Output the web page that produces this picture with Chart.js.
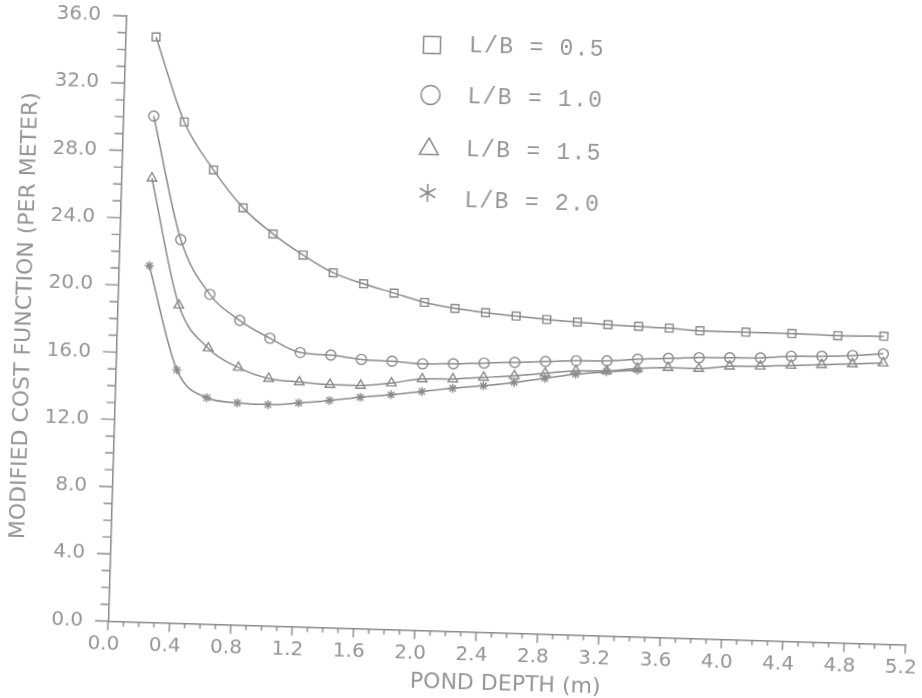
<!DOCTYPE html>
<html>
<head>
<meta charset="utf-8">
<title>Modified cost function vs pond depth</title>
<script src="https://cdn.jsdelivr.net/npm/chart.js@4/dist/chart.umd.min.js"></script>
<style>
  html, body { margin: 0; padding: 0; background: #fff; overflow: hidden; }
  /* the scanned figure sits slightly tilted on the page */
  #wrap { width: 944px; height: 698px; transform: rotate(1.7deg); transform-origin: 461px 349px; }
</style>
</head>
<body>
<div id="wrap"><canvas id="chart" width="944" height="698"></canvas></div>
<script>
// L/B = 0.5 (squares)
const depthSq = [0.2, 0.4, 0.6, 0.8, 1.0, 1.2, 1.4, 1.6, 1.8, 2.0, 2.2, 2.4, 2.6, 2.8, 3.0, 3.2, 3.4, 3.6, 3.8, 4.1, 4.4, 4.7, 5.0];
const costSq  = [34.8, 29.8, 27.0, 24.8, 23.3, 22.1, 21.1, 20.5, 20.0, 19.5, 19.2, 19.0, 18.85, 18.7, 18.6, 18.5, 18.45, 18.4, 18.3, 18.3, 18.3, 18.25, 18.3];

// L/B = 1.0 (circles)
const depthCi = [0.2, 0.4, 0.6, 0.8, 1.0, 1.2, 1.4, 1.6, 1.8, 2.0, 2.2, 2.4, 2.6, 2.8, 3.0, 3.2, 3.4, 3.6, 3.8, 4.0, 4.2, 4.4, 4.6, 4.8, 5.0];
const costCi  = [30.1, 22.8, 19.6, 18.1, 17.1, 16.3, 16.2, 16.0, 15.95, 15.85, 15.9, 16.0, 16.1, 16.2, 16.3, 16.35, 16.5, 16.6, 16.7, 16.75, 16.8, 16.95, 17.0, 17.1, 17.25];

// L/B = 1.5 (triangles)
const depthTr = [0.2, 0.4, 0.6, 0.8, 1.0, 1.2, 1.4, 1.6, 1.8, 2.0, 2.2, 2.4, 2.6, 2.8, 3.0, 3.2, 3.4, 3.6, 3.8, 4.0, 4.2, 4.4, 4.6, 4.8, 5.0];
const costTr  = [26.4, 18.9, 16.4, 15.3, 14.7, 14.55, 14.45, 14.45, 14.65, 14.95, 15.0, 15.15, 15.3, 15.5, 15.7, 15.75, 15.95, 16.05, 16.05, 16.25, 16.3, 16.4, 16.5, 16.6, 16.7];

// L/B = 2.0 (stars)
const depthSt = [0.2, 0.4, 0.6, 0.8, 1.0, 1.2, 1.4, 1.6, 1.8, 2.0, 2.2, 2.4, 2.6, 2.8, 3.0, 3.2, 3.4];
const costSt  = [21.2, 15.05, 13.45, 13.2, 13.15, 13.3, 13.5, 13.75, 13.95, 14.2, 14.45, 14.65, 14.9, 15.2, 15.5, 15.7, 15.85];

const seriesLabels = ['L/B = 0.5', 'L/B = 1.0', 'L/B = 1.5', 'L/B = 2.0'];

// axis ticks: labelled every 0.4 / 4.0, small marks every 0.1 / 1.0
const xMin = 0, xMax = 5.2, xMajor = 0.4, xMinor = 0.1;
const yMin = 0, yMax = 36, yMajor = 4, yMinor = 1;

const LINE = '#8a8a8a';
const TEXT = '#959595';

const pts = (xs, ys) => xs.map((x, i) => ({ x: x, y: ys[i] }));

function series(label, xs, ys, style, r) {
  return {
    label: label,
    data: pts(xs, ys),
    borderColor: LINE,
    borderWidth: 1.5,
    pointStyle: style,
    pointRadius: r,
    pointBorderColor: LINE,
    pointBorderWidth: 1.4,
    pointBackgroundColor: 'rgba(0,0,0,0)',
    cubicInterpolationMode: 'monotone',
    fill: false
  };
}

// plotter-style tick marks, long on labelled values, short in between
const tickMarks = {
  id: 'tickMarks',
  afterDraw(chart) {
    const { ctx, chartArea, scales } = chart;
    ctx.save();
    ctx.strokeStyle = LINE;
    ctx.lineWidth = 1.4;
    ctx.beginPath();
    const nx = Math.round((xMax - xMin) / xMinor);
    for (let i = 0; i <= nx; i++) {
      const px = scales.x.getPixelForValue(xMin + i * xMinor);
      const len = i % Math.round(xMajor / xMinor) === 0 ? 9 : 5;
      ctx.moveTo(px, chartArea.bottom);
      ctx.lineTo(px, chartArea.bottom + len);
    }
    const ny = Math.round((yMax - yMin) / yMinor);
    for (let i = 0; i <= ny; i++) {
      const py = scales.y.getPixelForValue(yMin + i * yMinor);
      const len = i % Math.round(yMajor / yMinor) === 0 ? 13 : 8;
      ctx.moveTo(chartArea.left, py);
      ctx.lineTo(chartArea.left - len, py);
    }
    ctx.stroke();
    ctx.restore();
  }
};

// legend inside the plot, big symbols followed by typewriter text
const plotLegend = {
  id: 'plotLegend',
  afterDraw(chart) {
    const ctx = chart.ctx;
    const rows = [46, 97, 150, 201];
    const marks = [
      { pointStyle: 'rect', radius: 12, dy: 0 },
      { pointStyle: 'circle', radius: 9.5, dy: -1 },
      { pointStyle: 'triangle', radius: 11, dy: 0 },
      { pointStyle: 'asterisk', radius: 9, dy: -7 }
    ];
    ctx.save();
    ctx.strokeStyle = LINE;
    ctx.fillStyle = 'rgba(0,0,0,0)';
    ctx.lineWidth = 1.5;
    chart.data.datasets.forEach((ds, i) => {
      const m = marks[i];
      const x = 423, y = rows[i] + m.dy;
      if (m.pointStyle === 'asterisk') {
        ctx.beginPath();
        for (let k = 0; k < 3; k++) {
          const a = Math.PI / 2 + k * Math.PI / 3;
          ctx.moveTo(x - m.radius * Math.cos(a), y - m.radius * Math.sin(a));
          ctx.lineTo(x + m.radius * Math.cos(a), y + m.radius * Math.sin(a));
        }
        ctx.stroke();
      } else {
        Chart.helpers.drawPoint(ctx, { pointStyle: m.pointStyle, radius: m.radius, rotation: 0, borderWidth: 1.5 }, x, y);
      }
      ctx.fillStyle = TEXT;
      ctx.font = '23px "Liberation Mono", monospace';
      ctx.letterSpacing = '1.3px';
      ctx.textBaseline = 'middle';
      ctx.textAlign = 'left';
      ctx.fillText(ds.label, 460, rows[i]);
      ctx.fillStyle = 'rgba(0,0,0,0)';
    });
    ctx.restore();
  }
};

const tickFont = { family: '"DejaVu Sans", sans-serif', size: 20 };
const titleFont = { family: '"DejaVu Sans", sans-serif', size: 22 };

new Chart(document.getElementById('chart'), {
  type: 'line',
  data: {
    datasets: [
      series(seriesLabels[0], depthSq, costSq, 'rect', 5.5),
      series(seriesLabels[1], depthCi, costCi, 'circle', 5),
      series(seriesLabels[2], depthTr, costTr, 'triangle', 5.5),
      series(seriesLabels[3], depthSt, costSt, 'star', 4.5)
    ]
  },
  options: {
    responsive: false,
    animation: false,
    layout: { padding: { top: 26, right: 30, bottom: 0, left: 0 } },
    plugins: { legend: { display: false }, tooltip: { enabled: false } },
    scales: {
      x: {
        type: 'linear',
        min: xMin,
        max: xMax,
        grid: { display: false, drawTicks: false },
        border: { display: true, color: LINE, width: 1.5 },
        ticks: {
          stepSize: xMajor,
          padding: 11,
          labelOffset: -4,
          color: TEXT,
          font: tickFont,
          maxRotation: 0,
          autoSkip: false,
          callback: v => Number(v).toFixed(1)
        },
        title: { display: true, text: 'POND DEPTH (m)', color: TEXT, font: titleFont, padding: { top: 0, bottom: 1.5 } },
        afterFit: s => { s.height = 66.5; s.paddingLeft = 0; s.paddingRight = 0; }
      },
      y: {
        min: yMin,
        max: yMax,
        grid: { display: false, drawTicks: false },
        border: { display: true, color: LINE, width: 1.5 },
        ticks: {
          stepSize: yMajor,
          padding: 25,
          color: TEXT,
          font: tickFont,
          callback: v => Number(v).toFixed(1)
        },
        title: { display: true, text: 'MODIFIED COST FUNCTION (PER METER)', color: TEXT, font: titleFont, padding: { top: 11, bottom: 0 } },
        afterFit: s => { s.width = 116.3; s.paddingTop = 0; s.paddingBottom = 0; }
      }
    }
  },
  plugins: [tickMarks, plotLegend]
});
</script>
</body>
</html>
